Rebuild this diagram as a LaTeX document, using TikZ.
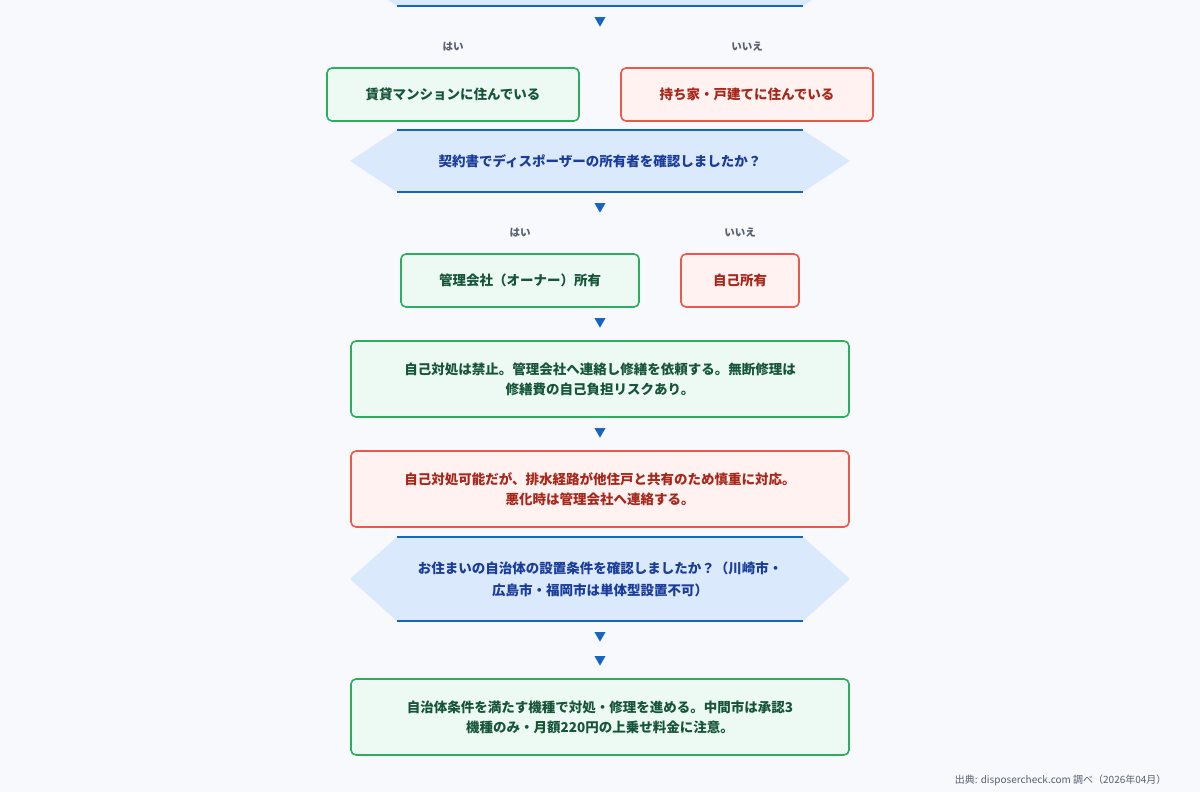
\documentclass[tikz,border=0pt]{standalone}
\usepackage{fontspec}
\setmainfont{Noto Sans CJK JP}
\begin{document}
\begin{tikzpicture}[x=1pt,y=-1pt,
 gbox/.style={draw=gB,fill=gF,line width=1.6pt,rounded corners=5pt,text=gT,font=\fontsize{13.5}{20}\selectfont\bfseries,align=center},
 rbox/.style={draw=rB,fill=rF,line width=1.6pt,rounded corners=5pt,text=rT,font=\fontsize{13.5}{20}\selectfont\bfseries,align=center},
 lab/.style={text=labC,font=\fontsize{10.5}{12}\selectfont\bfseries},
 arr/.style={text=aC,font=\fontsize{12}{12}\selectfont},
 qt/.style={text=qT,font=\fontsize{13.5}{22}\selectfont\bfseries,align=center}]
\definecolor{bg}{HTML}{F7F9FC}
\definecolor{gB}{HTML}{2BAE5E}\definecolor{gF}{HTML}{ECFAF3}\definecolor{gT}{HTML}{17553A}
\definecolor{rB}{HTML}{EA5A48}\definecolor{rF}{HTML}{FFF2F0}\definecolor{rT}{HTML}{A8261A}
\definecolor{hF}{HTML}{DBE9FC}\definecolor{hL}{HTML}{1565C0}\definecolor{qT}{HTML}{1A3C9A}
\definecolor{labC}{HTML}{5A6070}\definecolor{aC}{HTML}{1565C0}
\fill[bg] (0,0) rectangle (1200,792);
\useasboundingbox (0,0) rectangle (1200,792);
\begin{scope}
\clip (0,0) rectangle (1200,792);
\fill[hF] (397,-56)--(803,-56)--(850,-25)--(803,6)--(397,6)--(350,-25)--cycle;
\draw[hL,line width=1.5pt] (397,6)--(803,6);
\end{scope}
% hexagon 2
\fill[hF] (397,130)--(803,130)--(850,161)--(803,192)--(397,192)--(350,161)--cycle;
\draw[hL,line width=1.5pt] (397,130)--(803,130) (397,192)--(803,192);
\node[qt] (q2) at (600,161) {契約書でディスポーザーの所有者を確認しましたか？};
% hexagon 3
\fill[hF] (397,537)--(803,537)--(850,579)--(803,621)--(397,621)--(350,579)--cycle;
\draw[hL,line width=1.5pt] (397,537)--(803,537) (397,621)--(803,621);
\node[qt] (q3) at (600,579) {お住まいの自治体の設置条件を確認しましたか？（川崎市・\\広島市・福岡市は単体型設置不可）};
% arrows
\foreach \n/\y in {a1/22,a2/208,a3/323,a4/433,a5/637,a6/661}
  \node[arr] (\n) at (600,\y) {▼};
% labels
\node[lab] (l1) at (453,47) {はい};
\node[lab] (l2) at (747,47) {いいえ};
\node[lab] (l3) at (520,233) {はい};
\node[lab] (l4) at (740,233) {いいえ};
% boxes
\node[gbox,minimum width=252pt,minimum height=53pt] (b1) at (453,94.5) {賃貸マンションに住んでいる};
\node[rbox,minimum width=252pt,minimum height=53pt] (b2) at (747,94.5) {持ち家・戸建てに住んでいる};
\node[gbox,minimum width=238pt,minimum height=53pt] (b3) at (520,280.5) {管理会社（オーナー）所有};
\node[rbox,minimum width=118pt,minimum height=53pt] (b4) at (740,280.5) {自己所有};
\node[gbox,minimum width=498pt,minimum height=76pt] (b5) at (600,379) {自己対処は禁止。管理会社へ連絡し修繕を依頼する。無断修理は\\修繕費の自己負担リスクあり。};
\node[rbox,minimum width=498pt,minimum height=76pt] (b6) at (600,489) {自己対処可能だが、排水経路が他住戸と共有のため慎重に対応。\\悪化時は管理会社へ連絡する。};
\node[gbox,minimum width=498pt,minimum height=76pt] (b7) at (600,717) {自治体条件を満たす機種で対処・修理を進める。中間市は承認3\\機種のみ・月額220円の上乗せ料金に注意。};
\node[anchor=east,text=labC,font=\fontsize{10}{12}\selectfont] (src) at (1170,780) {出典: disposercheck.com 調べ（2026年04月）};
\end{tikzpicture}
\end{document}
